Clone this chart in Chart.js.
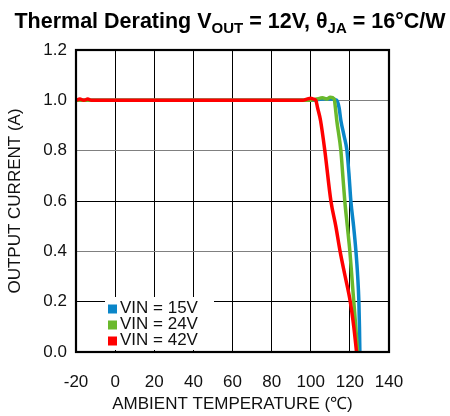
<!DOCTYPE html>
<html>
<head>
<meta charset="utf-8">
<script src="https://cdn.jsdelivr.net/npm/chart.js@4"></script>
<style>
  html, body { margin: 0; padding: 0; background: #fff; }
  canvas { display: block; }
</style>
</head>
<body>
<canvas id="c" width="450" height="416"></canvas>
<script>
// ---- data ----
const seriesLabels = ['VIN = 15V', 'VIN = 24V', 'VIN = 42V'];
const seriesColors = ['#0a86c9', '#6ab92c', '#ff0000'];

const temps15 = [-20, 0, 20, 40, 60, 80, 100, 106, 110, 113.3, 114.5, 115.4, 117, 118.5, 119.6, 120.5, 121.9, 123.1, 124, 124.6, 124.9, 125.1];
const curr15  = [1.0, 1.0, 1.0, 1.0, 1.0, 1.0, 1.0, 1.005, 1.005, 1.0, 0.97, 0.92, 0.86, 0.8, 0.7, 0.6, 0.5, 0.4, 0.3, 0.2, 0.1, 0.0];

const temps24 = [-20, 0, 20, 40, 60, 80, 100, 103, 106, 108, 110, 112, 112.6, 113.3, 115.4, 116.4, 117.4, 118.7, 120, 121, 122, 123, 124];
const curr24  = [1.0, 1.0, 1.0, 1.0, 1.0, 1.0, 1.0, 1.005, 1.01, 1.005, 1.012, 1.005, 0.97, 0.92, 0.8, 0.7, 0.6, 0.5, 0.4, 0.3, 0.2, 0.1, 0.0];

const temps42 = [-20, -18, -16, -14, -12, 0, 20, 40, 60, 80, 96, 98, 100, 101.5, 102.6, 103.5, 105, 107.2, 110.3, 112.8, 115, 117.6, 120.2, 122, 123.4];
const curr42  = [1.0, 1.005, 1.0, 1.005, 1.0, 1.0, 1.0, 1.0, 1.0, 1.0, 1.0, 1.005, 1.008, 1.005, 1.0, 0.97, 0.92, 0.8, 0.6, 0.5, 0.4, 0.3, 0.2, 0.1, 0.0];

const xTicks = [-20, 0, 20, 40, 60, 80, 100, 120, 140];
const yTicks = [0.0, 0.2, 0.4, 0.6, 0.8, 1.0, 1.2];
const grayYLines = [0.4, 0.8, 1.0];

const FONT = '"Liberation Sans", Arial, sans-serif';

function pts(xs, ys) { return xs.map((x, i) => ({ x: x, y: ys[i] })); }

const titlePlugin = {
  id: 'titleSub',
  afterDraw(chart) {
    const ctx = chart.ctx;
    const parts = [
      ['Thermal Derating V', false],
      ['OUT', true],
      [' = 12V, \u03B8', false],
      ['JA', true],
      [' = 16\u00B0C/W', false]
    ];
    const big = 'bold 21.5px ' + FONT, small = 'bold 15px ' + FONT;
    ctx.save();
    ctx.fillStyle = '#000';
    ctx.textBaseline = 'alphabetic';
    ctx.textAlign = 'left';
    let total = 0;
    parts.forEach(p => { ctx.font = p[1] ? small : big; total += ctx.measureText(p[0]).width; });
    let x = 230 - total / 2;
    parts.forEach(p => {
      ctx.font = p[1] ? small : big;
      ctx.fillText(p[0], x, p[1] ? 33 : 28);
      x += ctx.measureText(p[0]).width;
    });
    ctx.restore();
  }
};

const legendPlugin = {
  id: 'boxLegend',
  afterDatasetsDraw(chart) {
    const ctx = chart.ctx;
    ctx.save();
    ctx.fillStyle = '#fff';
    ctx.fillRect(105, 297, 109, 53);
    ctx.font = '17px ' + FONT;
    ctx.textBaseline = 'middle';
    ctx.textAlign = 'left';
    seriesLabels.forEach((lab, i) => {
      const cy = 309 + i * 16;
      ctx.fillStyle = seriesColors[i];
      ctx.fillRect(108, cy - 4.5, 9, 9);
      ctx.fillStyle = '#111';
      ctx.fillText(lab, 120, cy - 1);
    });
    ctx.restore();
  }
};

const borderPlugin = {
  id: 'frame',
  afterDraw(chart) {
    const a = chart.chartArea, ctx = chart.ctx;
    ctx.save();
    ctx.strokeStyle = '#000';
    ctx.lineWidth = 2.2;
    ctx.strokeRect(a.left, a.top, a.right - a.left, a.bottom - a.top);
    ctx.restore();
  }
};

const datasets = [
  { label: seriesLabels[0], data: pts(temps15, curr15), borderColor: seriesColors[0], order: 3 },
  { label: seriesLabels[1], data: pts(temps24, curr24), borderColor: seriesColors[1], order: 2 },
  { label: seriesLabels[2], data: pts(temps42, curr42), borderColor: seriesColors[2], order: 1 }
].map(d => Object.assign(d, { borderWidth: 3.5, pointRadius: 0, fill: false, cubicInterpolationMode: 'monotone', borderJoinStyle: 'round', borderCapStyle: 'round' }));

new Chart(document.getElementById('c'), {
  type: 'line',
  data: { datasets: datasets },
  options: {
    responsive: false,
    animation: false,
    devicePixelRatio: 1,
    layout: { padding: { top: 50, right: 61, left: 0, bottom: 0 } },
    plugins: { legend: { display: false }, tooltip: { enabled: false }, title: { display: false } },
    scales: {
      x: {
        type: 'linear', min: -20, max: 140,
        afterBuildTicks(s) { s.ticks = xTicks.map(v => ({ value: v })); },
        afterFit(s) { s.height = 64; },
        ticks: { color: '#111', font: { family: FONT, size: 17 }, padding: 20, maxRotation: 0, autoSkip: false },
        grid: { color: '#000', lineWidth: 1, drawTicks: false },
        border: { display: false },
        title: { display: true, text: 'AMBIENT TEMPERATURE (\u2103)', color: '#111', font: { family: FONT, size: 17 }, padding: { top: 0, bottom: 1 } }
      },
      y: {
        min: 0, max: 1.2,
        afterBuildTicks(s) { s.ticks = yTicks.map(v => ({ value: v })); },
        afterFit(s) { s.width = 76; },
        ticks: { color: '#111', font: { family: FONT, size: 17 }, padding: 9, callback: v => Number(v).toFixed(1), autoSkip: false },
        grid: {
          color: c => (c.tick && grayYLines.some(g => Math.abs(g - c.tick.value) < 1e-6)) ? '#808080' : '#000',
          lineWidth: 1, drawTicks: false
        },
        border: { display: false },
        title: { display: true, text: 'OUTPUT CURRENT (A)', color: '#111', font: { family: FONT, size: 17 }, padding: { top: 5, bottom: 0 } }
      }
    }
  },
  plugins: [legendPlugin, borderPlugin, titlePlugin]
});
</script>
</body>
</html>
